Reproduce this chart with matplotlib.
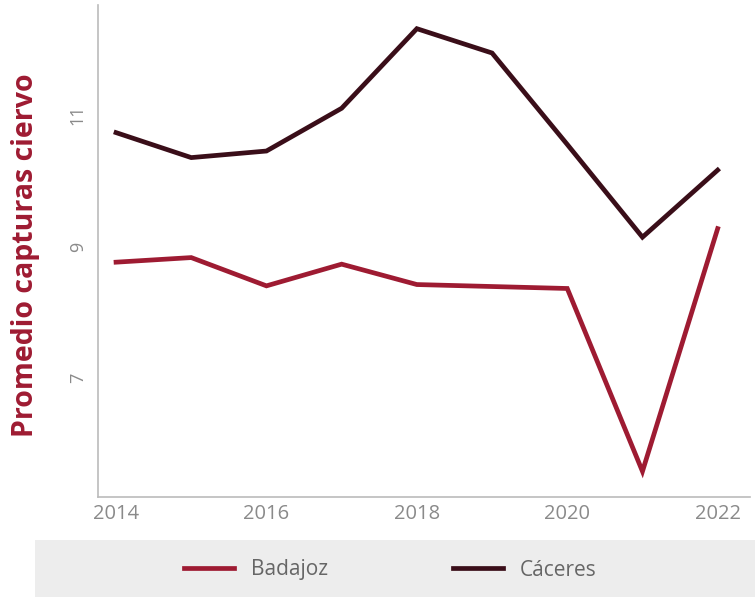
import matplotlib.pyplot as plt
from matplotlib.patches import Rectangle

# Data
years = [2014, 2015, 2016, 2017, 2018, 2019, 2020, 2021, 2022]
badajoz = [8.76, 8.83, 8.40, 8.73, 8.42, 8.39, 8.36, 5.58, 9.27]
caceres = [10.73, 10.35, 10.45, 11.10, 12.31, 11.94, 10.55, 9.14, 10.16]

x_ticks = [2014, 2016, 2018, 2020, 2022]
y_ticks = [7, 9, 11]

red = '#9E1B32'
dark = '#3A0E19'
grey_txt = '#8A8A8A'

plt.rcParams['font.family'] = ['Open Sans', 'DejaVu Sans']

fig = plt.figure(figsize=(7.55, 5.97), dpi=100)
ax = fig.add_axes([98 / 755, 1 - 497 / 597, 652 / 755, 492 / 597])

# grey legend band at the bottom
fig.patches.append(Rectangle((35 / 755, 0), 720 / 755, 57 / 597,
                             transform=fig.transFigure, facecolor='#EDEDED',
                             edgecolor='none', zorder=0))

ax.plot(years, badajoz, color=red, lw=3.4, label='Badajoz', solid_joinstyle='miter')
ax.plot(years, caceres, color=dark, lw=3.4, label='Cáceres', solid_joinstyle='miter')

ax.set_xlim(2013.76, 2022.43)
ax.set_ylim(5.19, 12.67)
ax.set_xticks(x_ticks)
ax.set_yticks(y_ticks)
ax.set_xticklabels([str(v) for v in x_ticks], fontsize=14.5, color=grey_txt)
ax.set_yticklabels([str(v) for v in y_ticks], fontsize=13, color=grey_txt,
                   rotation=90, va='center')
ax.tick_params(length=0, pad=8)
ax.tick_params(axis='x', pad=5)

for side in ['top', 'right']:
    ax.spines[side].set_visible(False)
for side in ['left', 'bottom']:
    ax.spines[side].set_color('#BBBBBB')
    ax.spines[side].set_linewidth(1.2)

fig.text(26 / 755, 1 - 255 / 597, 'Promedio capturas ciervo', color=red,
         fontsize=20.5, fontweight='bold', rotation=90, ha='center', va='center')

fig.legend(loc='center', bbox_to_anchor=(390 / 755, 27 / 597), ncol=2,
           frameon=False, fontsize=15, handlelength=2.4, handletextpad=0.8,
           columnspacing=6, labelcolor='#666666')

fig.savefig('out.png', dpi=100, facecolor='white')
